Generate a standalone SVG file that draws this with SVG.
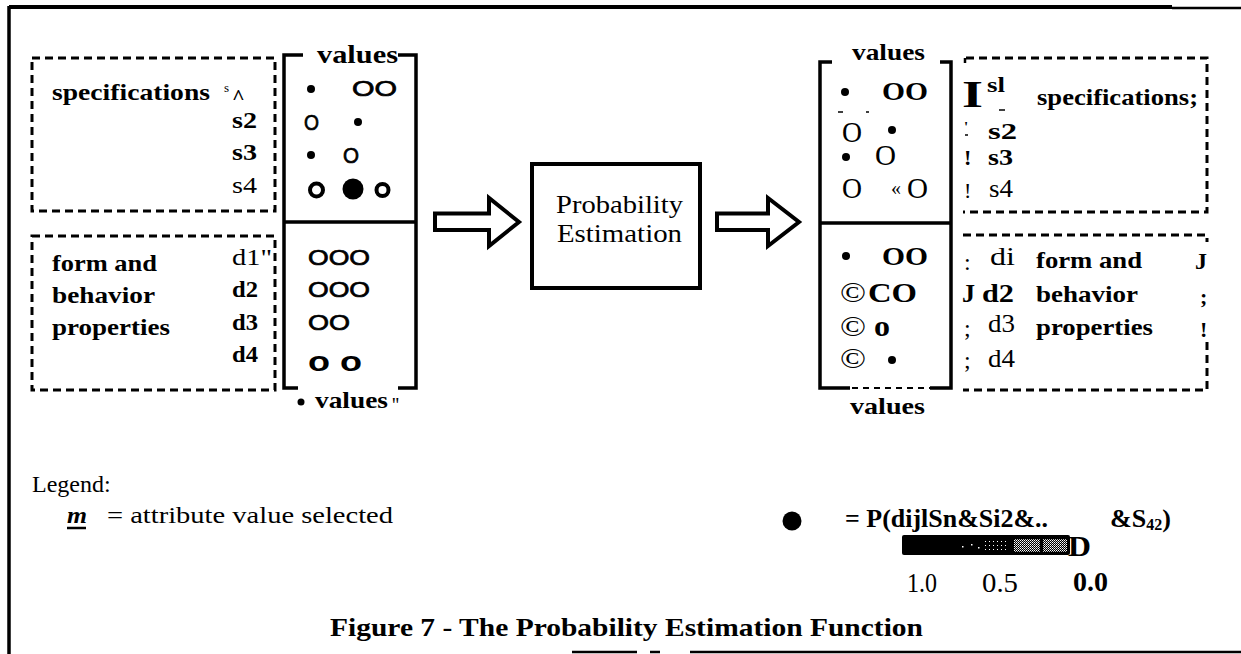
<svg xmlns="http://www.w3.org/2000/svg" width="1241" height="654" viewBox="0 0 1241 654">
<style>
.ser{font-family:"Liberation Serif","Times New Roman",Times,serif;fill:#000}
.sans{font-family:"Liberation Sans",Arial,sans-serif;fill:#000}
.b{font-weight:bold}
.dash{fill:none;stroke:#000;stroke-width:3;stroke-dasharray:8 5}
.solid{fill:none;stroke:#000;stroke-width:3.5}
.arrow{fill:#fff;stroke:#000;stroke-width:4;stroke-linejoin:miter}
.ring{fill:none;stroke:#000;stroke-width:4}
.o{stroke:#000;stroke-width:0.7}
</style>
<defs>
<pattern id="sparse" width="4" height="4" patternUnits="userSpaceOnUse">
<rect width="4" height="4" fill="#000"/>
<rect x="1" y="1" width="1" height="1" fill="#fff"/>
</pattern>
<pattern id="checker" width="2" height="2" patternUnits="userSpaceOnUse">
<rect width="2" height="2" fill="#000"/>
<rect width="1" height="1" fill="#fff"/>
<rect x="1" y="1" width="1" height="1" fill="#bbb"/>
</pattern>
</defs>
<rect width="1241" height="654" fill="#fff"/>

<g id="frame">
<path d="M9,7 H1172" stroke="#000" stroke-width="4" fill="none"/>
<path d="M1172,8 H1241" stroke="#000" stroke-width="2.5" fill="none"/>
<path d="M9,6 V654" stroke="#000" stroke-width="3.5" fill="none"/>
<path d="M572,652 H637 M650,652 H660 M690,652 H1241" stroke="#000" stroke-width="2.5" fill="none"/>
</g>

<g id="left-specifications">
<rect class="dash" x="32" y="58" width="243" height="153"/>
<text class="ser b" x="52" y="100" font-size="23" textLength="158" lengthAdjust="spacingAndGlyphs">specifications</text>
<text class="ser" x="224" y="92" font-size="13">s</text>
<text class="ser b" x="232" y="104" font-size="22">^</text>
<text class="ser b" x="232" y="128" font-size="24" textLength="25" lengthAdjust="spacingAndGlyphs">s2</text>
<text class="ser b" x="232" y="160" font-size="24" textLength="25" lengthAdjust="spacingAndGlyphs">s3</text>
<text class="ser" x="232" y="193" font-size="24" textLength="25" lengthAdjust="spacingAndGlyphs">s4</text>
</g>

<g id="left-form">
<rect class="dash" x="32" y="236" width="243" height="154"/>
<text class="ser b" x="52" y="271" font-size="23" textLength="105" lengthAdjust="spacingAndGlyphs">form and</text>
<text class="ser b" x="52" y="303" font-size="23" textLength="103" lengthAdjust="spacingAndGlyphs">behavior</text>
<text class="ser b" x="52" y="335" font-size="23" textLength="118" lengthAdjust="spacingAndGlyphs">properties</text>
<text class="ser" x="232" y="265" font-size="24" textLength="40" lengthAdjust="spacingAndGlyphs">d1"</text>
<text class="ser b" x="232" y="297" font-size="24" textLength="26" lengthAdjust="spacingAndGlyphs">d2</text>
<text class="ser b" x="232" y="330" font-size="24" textLength="26" lengthAdjust="spacingAndGlyphs">d3</text>
<text class="ser b" x="232" y="362" font-size="24" textLength="26" lengthAdjust="spacingAndGlyphs">d4</text>
</g>

<g id="left-values">
<path class="solid" d="M303,55 H284 V388 H298 M398,388 H416 V55 H398 M284,222 H416"/>
<text class="ser b" x="317" y="63" font-size="25" textLength="81" lengthAdjust="spacingAndGlyphs">values</text>
<circle cx="311" cy="89" r="4"/>
<text class="sans o" x="352" y="96" font-size="22" textLength="45" lengthAdjust="spacingAndGlyphs">OO</text>
<text class="sans o" x="304" y="130" font-size="22" textLength="15" lengthAdjust="spacingAndGlyphs">O</text>
<circle cx="358" cy="122" r="4"/>
<circle cx="311" cy="155" r="4"/>
<text class="sans o" x="343" y="163" font-size="22" textLength="16" lengthAdjust="spacingAndGlyphs">O</text>
<circle class="ring" cx="316.5" cy="190" r="6.5"/>
<circle cx="353" cy="189" r="10.5"/>
<circle class="ring" cx="382.5" cy="190" r="6"/>
<text class="sans o" x="308" y="265" font-size="22" textLength="62" lengthAdjust="spacingAndGlyphs">OOO</text>
<text class="sans o" x="308" y="297" font-size="22" textLength="62" lengthAdjust="spacingAndGlyphs">OOO</text>
<text class="sans o" x="308" y="330" font-size="22" textLength="42" lengthAdjust="spacingAndGlyphs">OO</text>
<text class="sans b" x="308" y="371" font-size="28" textLength="54" lengthAdjust="spacingAndGlyphs">o o</text>
<circle cx="301" cy="402" r="3.5"/>
<text class="ser b" x="315" y="408" font-size="23" textLength="73" lengthAdjust="spacingAndGlyphs">values</text>
<text class="ser" x="392" y="412" font-size="20">''</text>
</g>

<g id="connectors">
<polygon class="arrow" points="435,213.5 489,213.5 489,198 519,222 489,246 489,230 435,230"/>
<polygon class="arrow" points="717,213.5 768,213.5 768,198 799,222 768,246 768,230 717,230"/>
</g>

<g id="probability-estimation">
<rect x="532" y="164" width="168" height="124" fill="#fff" stroke="#000" stroke-width="4"/>
<text class="ser" x="556" y="213" font-size="26" textLength="127" lengthAdjust="spacingAndGlyphs">Probability</text>
<text class="ser" x="557" y="242" font-size="26" textLength="125" lengthAdjust="spacingAndGlyphs">Estimation</text>
</g>

<g id="right-values">
<path class="solid" d="M832,62 H820 V388 H850 M930,388 H951 V62 H940 M820,223 H951"/>
<path d="M852,388 H930" stroke="#000" stroke-width="2" stroke-dasharray="6 5" fill="none"/>
<text class="ser b" x="852" y="60" font-size="23" textLength="73" lengthAdjust="spacingAndGlyphs">values</text>
<circle cx="845" cy="92" r="4"/>
<text class="ser b" x="882" y="100" font-size="26" textLength="46" lengthAdjust="spacingAndGlyphs">OO</text>
<path d="M838,112 H843 M866,112 H869" stroke="#000" stroke-width="1.5"/>
<text class="ser" x="842" y="142" font-size="29" textLength="20" lengthAdjust="spacingAndGlyphs">O</text>
<circle cx="892" cy="130" r="4"/>
<circle cx="846" cy="157" r="4"/>
<text class="ser" x="875" y="165" font-size="29" textLength="21" lengthAdjust="spacingAndGlyphs">O</text>
<text class="ser" x="842" y="198" font-size="29" textLength="20" lengthAdjust="spacingAndGlyphs">O</text>
<text class="ser" x="891" y="195" font-size="20">«</text>
<text class="ser" x="907" y="198" font-size="29" textLength="21" lengthAdjust="spacingAndGlyphs">O</text>
<circle cx="846" cy="256" r="4"/>
<text class="ser b" x="882" y="265" font-size="26" textLength="46" lengthAdjust="spacingAndGlyphs">OO</text>
<text class="ser" x="840" y="302" font-size="28" textLength="26" lengthAdjust="spacingAndGlyphs">©</text>
<text class="ser b" x="868" y="302" font-size="28" textLength="49" lengthAdjust="spacingAndGlyphs">CO</text>
<text class="ser" x="840" y="336" font-size="28" textLength="26" lengthAdjust="spacingAndGlyphs">©</text>
<text class="ser b" x="874" y="336" font-size="30" textLength="16" lengthAdjust="spacingAndGlyphs">o</text>
<text class="ser" x="840" y="368" font-size="28" textLength="26" lengthAdjust="spacingAndGlyphs">©</text>
<circle cx="892" cy="360" r="4"/>
<text class="ser b" x="850" y="414" font-size="23" textLength="75" lengthAdjust="spacingAndGlyphs">values</text>
</g>

<g id="right-specifications">
<path class="dash" d="M966,58 H1207 V212 H963"/>
<path d="M965,58 V63" stroke="#000" stroke-width="2.5"/>
<text class="ser b" x="962" y="107" font-size="38" textLength="21" lengthAdjust="spacingAndGlyphs">I</text>
<text class="ser b" x="987" y="92" font-size="20" textLength="18" lengthAdjust="spacingAndGlyphs">sl</text>
<path d="M999,110 H1005" stroke="#000" stroke-width="1.5"/>
<text class="ser b" x="1037" y="105" font-size="23" textLength="161" lengthAdjust="spacingAndGlyphs">specifications;</text>
<text class="ser b" x="964" y="132" font-size="15">'</text>
<path d="M965,135 H968" stroke="#000" stroke-width="1.5"/>
<text class="ser b" x="988" y="139" font-size="23" textLength="29" lengthAdjust="spacingAndGlyphs">s2</text>
<text class="ser b" x="964" y="165" font-size="22">!</text>
<text class="ser b" x="988" y="165" font-size="23" textLength="25" lengthAdjust="spacingAndGlyphs">s3</text>
<text class="ser" x="964" y="198" font-size="22">!</text>
<text class="ser" x="989" y="197" font-size="25" textLength="24" lengthAdjust="spacingAndGlyphs">s4</text>
</g>

<g id="right-form">
<path class="dash" d="M963,235 H1207 V242 M1207,342 V390 H963"/>
<text class="ser" x="964" y="270" font-size="24">:</text>
<text class="ser" x="990" y="265" font-size="26" textLength="25" lengthAdjust="spacingAndGlyphs">di</text>
<text class="ser b" x="962" y="302" font-size="26" textLength="13" lengthAdjust="spacingAndGlyphs">J</text>
<text class="ser b" x="982" y="302" font-size="26" textLength="32" lengthAdjust="spacingAndGlyphs">d2</text>
<text class="ser" x="964" y="336" font-size="24">;</text>
<text class="ser" x="988" y="332" font-size="26" textLength="27" lengthAdjust="spacingAndGlyphs">d3</text>
<text class="ser" x="964" y="368" font-size="24">;</text>
<text class="ser" x="988" y="367" font-size="26" textLength="27" lengthAdjust="spacingAndGlyphs">d4</text>
<text class="ser b" x="1036" y="268" font-size="23" textLength="106" lengthAdjust="spacingAndGlyphs">form and</text>
<text class="ser b" x="1036" y="302" font-size="23" textLength="102" lengthAdjust="spacingAndGlyphs">behavior</text>
<text class="ser b" x="1036" y="335" font-size="23" textLength="117" lengthAdjust="spacingAndGlyphs">properties</text>
<text class="ser b" x="1195" y="269" font-size="24" textLength="12" lengthAdjust="spacingAndGlyphs">J</text>
<text class="ser b" x="1200" y="304" font-size="22">;</text>
<text class="ser b" x="1200" y="337" font-size="22">!</text>
</g>

<g id="legend">
<text class="ser" x="32" y="492" font-size="24">Legend:</text>
<text class="ser b" x="67" y="523" font-size="24" font-style="italic" textLength="20" lengthAdjust="spacingAndGlyphs">m</text>
<path d="M67,528 H86" stroke="#000" stroke-width="2.5"/>
<text class="ser" x="107" y="523" font-size="24" textLength="286" lengthAdjust="spacingAndGlyphs">= attribute value selected</text>
<circle cx="792" cy="521" r="9.5"/>
<text class="ser b" x="845" y="527" font-size="26" textLength="203" lengthAdjust="spacingAndGlyphs">= P(dijlSn&amp;Si2&amp;..</text>
<text class="ser b" x="1110" y="527" font-size="26">&amp;S<tspan font-size="16" dy="3">42</tspan><tspan dy="-3">)</tspan></text>
<rect x="902" y="535" width="168" height="20" rx="2" fill="#000"/>
<rect x="962" y="546" width="1.5" height="1.5" fill="#fff"/>
<rect x="971" y="544" width="1.5" height="1.5" fill="#fff"/>
<rect x="978" y="547" width="1.5" height="1.5" fill="#fff"/>
<rect x="985" y="540" width="24" height="11" fill="url(#sparse)"/>
<rect x="1014" y="539" width="26" height="13" fill="url(#checker)"/>
<rect x="1043" y="539" width="24" height="13" fill="url(#checker)"/>
<text class="ser b" x="1068" y="556" font-size="29" textLength="23" lengthAdjust="spacingAndGlyphs">D</text>
<text class="ser" x="907" y="592" font-size="27" textLength="30" lengthAdjust="spacingAndGlyphs">1.0</text>
<text class="ser" x="982" y="592" font-size="27" textLength="36" lengthAdjust="spacingAndGlyphs">0.5</text>
<text class="ser b" x="1073" y="591" font-size="27" textLength="35" lengthAdjust="spacingAndGlyphs">0.0</text>
</g>

<g id="caption">
<text class="ser b" x="330" y="636" font-size="26" textLength="593" lengthAdjust="spacingAndGlyphs">Figure 7 - The Probability Estimation Function</text>
</g>
</svg>
